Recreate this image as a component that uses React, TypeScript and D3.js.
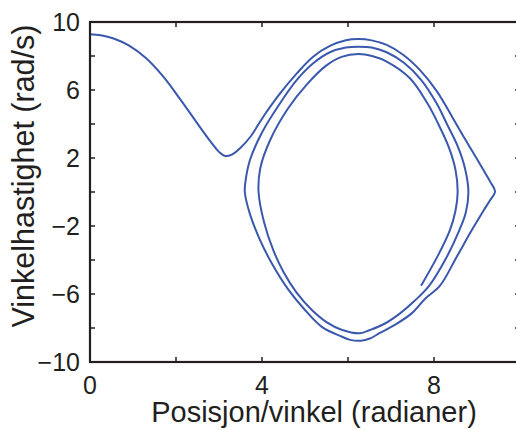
import React from "react";
import * as d3 from "d3";

// Phase trajectory, split in consecutive segments: [theta (rad), omega (rad/s)]
const approachSegment: [number, number][] = [
  [0, 9.28], [0.25, 9.22], [0.55, 9.03], [0.9, 8.62], [1.3, 7.88], [1.7, 6.8],
  [2.1, 5.45], [2.5, 4.02], [2.8, 2.98], [3.0, 2.36], [3.14, 2.12], [3.3, 2.2],
  [3.49, 2.57], [3.74, 3.28], [4.03, 4.43], [4.42, 5.8], [4.81, 6.98], [5.19, 7.96],
  [5.58, 8.59], [5.95, 8.93], [6.25, 9.0], [6.55, 8.92], [6.9, 8.65], [7.29, 8.06],
  [7.67, 7.18], [8.06, 5.95], [8.45, 4.3], [8.7, 3.2], [8.95, 2.15], [9.17, 1.2],
  [9.32, 0.55], [9.42, 0.03],
];
const secondLoop: [number, number][] = [
  [9.3, -0.5], [9.15, -1.1], [8.88, -2.24], [8.52, -3.85], [8.14, -5.51], [7.8, -6.26],
  [7.48, -7.14], [7.1, -7.8], [6.74, -8.29], [6.51, -8.62], [6.3, -8.75], [6.05, -8.7],
  [5.85, -8.5], [5.4, -7.95], [5.0, -6.94], [4.6, -5.7], [4.25, -4.3], [3.95, -2.8],
  [3.72, -1.3], [3.6, 0.0], [3.62, 0.7], [3.72, 1.88], [4.0, 3.5], [4.42, 5.22],
  [4.81, 6.59], [5.19, 7.57], [5.58, 8.22], [5.95, 8.5], [6.24, 8.55], [6.55, 8.5],
  [6.9, 8.22], [7.3, 7.6], [7.7, 6.6], [8.06, 5.22], [8.3, 4.0], [8.55, 2.7],
  [8.72, 1.4], [8.8, 0.0], [8.74, -1.2], [8.59, -2.24], [8.28, -3.9], [7.89, -5.51],
  [7.55, -6.4], [7.21, -7.14], [6.85, -7.75], [6.51, -8.12], [6.28, -8.31],
];
const thirdLoop: [number, number][] = [
  [5.85, -8.1], [5.5, -7.65], [5.16, -6.94], [4.8, -5.9], [4.5, -4.7], [4.26, -3.41],
  [4.05, -1.8], [3.92, 0.0], [3.96, 1.4], [4.19, 3.06], [4.6, 4.9], [5.05, 6.35],
  [5.5, 7.45], [5.85, 7.95], [6.24, 8.12], [6.58, 7.98], [6.9, 7.67], [7.44, 6.69],
  [7.85, 5.2], [8.1, 4.0], [8.35, 2.6], [8.5, 1.3], [8.55, 0.0], [8.5, -1.1],
  [8.37, -2.24], [8.1, -3.7], [7.7, -5.51],
];

const xTicks = [0, 2, 4, 6, 8, 10];
const xTickLabels = [0, 4, 8];
const yTicks = [-10, -8, -6, -4, -2, 0, 2, 4, 6, 8, 10];
const yTickLabels = [-10, -6, -2, 2, 6, 10];
const xTitle = "Posisjon/vinkel (radianer)";
const yTitle = "Vinkelhastighet (rad/s)";

const W = 516;
const H = 430;
const left = 90, right = 520, top = 22, bottom = 362;

const fmt = (v: number) => (v < 0 ? "\u2212" + Math.abs(v) : String(v));

export default function App() {
  const x = d3.scaleLinear().domain([0, 10]).range([left, right]);
  const y = d3.scaleLinear().domain([-10, 10]).range([bottom, top]);
  const pts = [...approachSegment, ...secondLoop, ...thirdLoop];
  const line = d3
    .line<[number, number]>()
    .x((d) => x(d[0]))
    .y((d) => y(d[1]))
    .curve(d3.curveCatmullRom.alpha(0.5));
  const font = "Liberation Sans, Arial, sans-serif";
  const axisColor = "#231f20";
  const tickLen = 5;
  return (
    <svg
      width={W}
      height={H}
      style={{ position: "absolute", left: 0, top: 0, background: "#fff" }}
      fontFamily={font}
    >
      {xTicks.map((t) => (
        <g key={"xt" + t} stroke={axisColor} strokeWidth={1.5}>
          <line x1={x(t)} x2={x(t)} y1={bottom} y2={bottom - tickLen} />
          <line x1={x(t)} x2={x(t)} y1={top} y2={top + tickLen} />
        </g>
      ))}
      {yTicks.map((t) => (
        <g key={"yt" + t} stroke={axisColor} strokeWidth={1.5}>
          <line x1={left} x2={left + tickLen} y1={y(t)} y2={y(t)} />
          <line x1={right} x2={right - tickLen} y1={y(t)} y2={y(t)} />
        </g>
      ))}
      <path d={line(pts) ?? ""} fill="none" stroke="#3a58ad" strokeWidth={2} strokeLinejoin="round" />
      <rect x={left} y={top} width={right - left} height={bottom - top} fill="none" stroke={axisColor} strokeWidth={2.2} />
      {xTickLabels.map((t) => (
        <text key={"xl" + t} x={x(t)} y={393.5} textAnchor="middle" fontSize={25} fill="#231f20">
          {fmt(t)}
        </text>
      ))}
      {yTickLabels.map((t) => (
        <text key={"yl" + t} x={80} y={y(t) + 9} textAnchor="end" fontSize={25} fill="#231f20">
          {fmt(t)}
        </text>
      ))}
      <text x={314} y={422} textAnchor="middle" fontSize={29} fill="#231f20">
        {xTitle}
      </text>
      <text
        transform={`translate(34, 176) rotate(-90)`}
        textAnchor="middle"
        fontSize={30.5}
        fill="#231f20"
      >
        {yTitle}
      </text>
    </svg>
  );
}
